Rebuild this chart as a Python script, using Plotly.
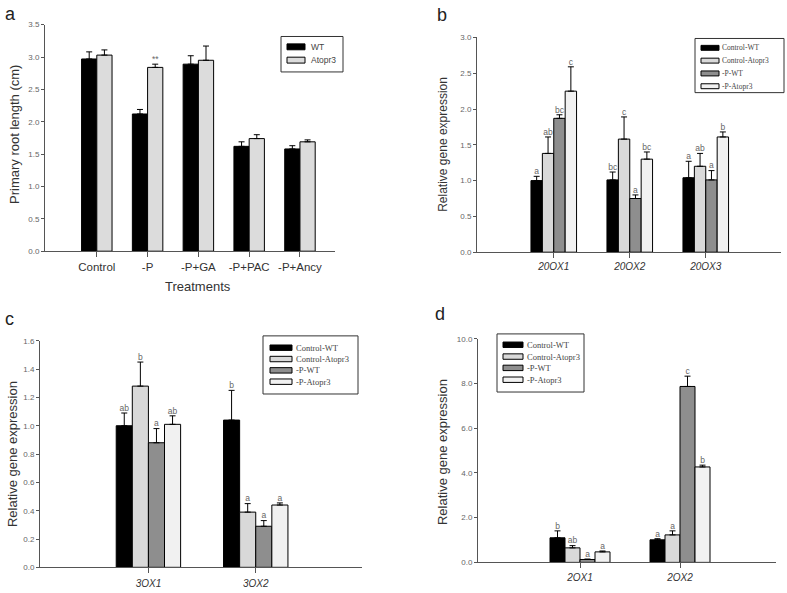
import plotly.graph_objects as go

# ---------------- data ----------------
# Panel a
a_categories = ["Control", "-P", "-P+GA", "-P+PAC", "-P+Ancy"]
a_series = ["WT", "Atopr3"]
a_wt = [2.97, 2.12, 2.89, 1.62, 1.58]
a_wt_err = [0.11, 0.07, 0.13, 0.07, 0.05]
a_atopr3 = [3.03, 2.84, 2.95, 1.74, 1.69]
a_atopr3_err = [0.08, 0.05, 0.22, 0.06, 0.03]
a_atopr3_marks = ["", "**", "", "", ""]

series_names = ["Control-WT", "Control-Atopr3", "-P-WT", "-P-Atopr3"]

# Panel b
b_genes = ["20OX1", "20OX2", "20OX3"]
b_vals = [
    [1.00, 1.01, 1.04],
    [1.38, 1.58, 1.20],
    [1.87, 0.75, 1.01],
    [2.25, 1.30, 1.61],
]
b_errs = [
    [0.06, 0.11, 0.23],
    [0.23, 0.31, 0.18],
    [0.05, 0.05, 0.13],
    [0.34, 0.10, 0.07],
]
b_letters = [
    ["a", "bc", "a"],
    ["ab", "c", "ab"],
    ["bc", "a", "a"],
    ["c", "bc", "b"],
]

# Panel c
c_genes = ["3OX1", "3OX2"]
c_vals = [
    [1.00, 1.04],
    [1.28, 0.39],
    [0.88, 0.29],
    [1.01, 0.44],
]
c_errs = [
    [0.09, 0.21],
    [0.17, 0.06],
    [0.10, 0.04],
    [0.06, 0.015],
]
c_letters = [
    ["ab", "b"],
    ["b", "a"],
    ["a", "a"],
    ["ab", "a"],
]

# Panel d
d_genes = ["2OX1", "2OX2"]
d_vals = [
    [1.10, 1.01],
    [0.65, 1.23],
    [0.13, 7.87],
    [0.47, 4.27],
]
d_errs = [
    [0.31, 0.05],
    [0.10, 0.18],
    [0.02, 0.46],
    [0.04, 0.08],
]
d_letters = [
    ["b", "a"],
    ["ab", "a"],
    ["a", "c"],
    ["a", "b"],
]

# ---------------- style ----------------
W, H = 787, 593
SANS = "Liberation Sans, Arial, sans-serif"
SERIF = "Liberation Serif, Times New Roman, serif"
series_colors = ["#000000", "#d9d9d9", "#8e8e8e", "#f1f1f1"]
a_colors = ["#000000", "#dcdcdc"]
AXIS_COL = "#555555"
TICK_COL = "#666666"
LETTER_COL = "#666666"
GROUP_W = 0.6


def px_x(p):
    return p / W


def px_y(p):
    return 1 - p / H


fig = go.Figure()


def add_panel(idx, cats, vals, errs, names, colors, letters):
    xa = "x" if idx == 1 else f"x{idx}"
    ya = "y" if idx == 1 else f"y{idx}"
    n = len(vals)
    slot = GROUP_W / n
    xs = list(range(len(cats)))
    for k in range(n):
        fig.add_trace(go.Bar(
            x=xs, y=vals[k], name=names[k],
            marker=dict(color=colors[k], line=dict(color="#000000", width=1)),
            error_y=dict(type="data", symmetric=False, array=errs[k],
                         arrayminus=[0] * len(cats), color="#000000",
                         thickness=1, width=3),
            xaxis=xa, yaxis=ya, offsetgroup=str(k), showlegend=False,
            hoverinfo="skip",
        ))
    for k in range(n):
        if letters is None or letters[k] is None:
            continue
        off = (k - (n - 1) / 2) * slot
        fig.add_trace(go.Scatter(
            x=[i + off for i in xs],
            y=[v + e for v, e in zip(vals[k], errs[k])],
            text=letters[k], mode="text", textposition="top center",
            textfont=dict(size=8.5, color=LETTER_COL, family=SANS),
            xaxis=xa, yaxis=ya, showlegend=False, hoverinfo="skip",
            cliponaxis=False,
        ))


add_panel(1, a_categories, [a_wt, a_atopr3], [a_wt_err, a_atopr3_err],
          a_series, a_colors, [None, a_atopr3_marks])
add_panel(2, b_genes, b_vals, b_errs, series_names, series_colors, b_letters)
add_panel(3, c_genes, c_vals, c_errs, series_names, series_colors, c_letters)
add_panel(4, d_genes, d_vals, d_errs, series_names, series_colors, d_letters)


def xaxis(domain_px, cats, rng, italic, fsize, anchor, ticklen=5, standoff=0):
    labels = [f"<i>{c}</i>" for c in cats] if italic else cats
    return dict(
        domain=[px_x(domain_px[0]), px_x(domain_px[1])],
        range=rng, showline=True, linecolor=AXIS_COL, linewidth=1,
        ticks="outside", ticklen=ticklen, tickcolor=AXIS_COL, tickwidth=1,
        tickvals=list(range(len(cats))), ticktext=labels,
        ticklabelstandoff=standoff,
        tickfont=dict(size=fsize, color="#333333", family=SANS),
        showgrid=False, zeroline=False, fixedrange=True, anchor=anchor,
    )


def yaxis(domain_px, rng, dtick, anchor):
    return dict(
        domain=[px_y(domain_px[1]), px_y(domain_px[0])],
        range=rng, dtick=dtick, tick0=0, tickformat=".1f",
        showline=True, linecolor=AXIS_COL, linewidth=1,
        ticks="outside", ticklen=3, tickcolor=AXIS_COL,
        tickfont=dict(size=8, color=TICK_COL, family=SANS),
        showgrid=False, zeroline=False, anchor=anchor, fixedrange=True,
    )


fig.update_layout(
    width=W, height=H,
    margin=dict(l=0, r=0, t=0, b=0),
    paper_bgcolor="white", plot_bgcolor="white",
    barmode="group", bargap=0.4, bargroupgap=0,
    showlegend=False,
    xaxis=xaxis((45, 335), a_categories, [-1.02, 4.69], False, 11.5, "y"),
    yaxis=yaxis((21, 251), [0, 3.5], 0.5, "x"),
    xaxis2=xaxis((477, 781), b_genes, [-1.01, 2.99], True, 10, "y2"),
    yaxis2=yaxis((34, 252), [0, 3.0], 0.5, "x2"),
    xaxis3=xaxis((40, 362), c_genes, [-1.01, 1.99], True, 10, "y3", standoff=2),
    yaxis3=yaxis((342, 572), [0, 1.6], 0.2, "x3"),
    xaxis4=xaxis((478, 776), d_genes, [-1.02, 1.96], True, 10, "y4", standoff=1),
    yaxis4=yaxis((340, 567), [0, 10.0], 2.0, "x4"),
)

ann = []
shapes = []


def text(x, y, s, size, angle=0, color="#222222", family=SANS, xanchor="center"):
    ann.append(dict(
        x=px_x(x), y=px_y(y), xref="paper", yref="paper",
        text=s, showarrow=False,
        textangle=angle, xanchor=xanchor, yanchor="middle",
        font=dict(size=size, family=family, color=color),
    ))


def rect(x0, y0, x1, y1, fill, line="#000000", width=1):
    shapes.append(dict(
        type="rect", xref="paper", yref="paper",
        x0=px_x(x0), x1=px_x(x1), y0=px_y(y1), y1=px_y(y0),
        fillcolor=fill, line=dict(color=line, width=width),
    ))


def draw_legend(box, sw_x, sw_h, item_y, text_x, names, colors, family, fsize):
    rect(box[0], box[1], box[2], box[3], "white", "#333333", 1)
    for yy, nm, col in zip(item_y, names, colors):
        rect(sw_x[0], yy - sw_h / 2, sw_x[1], yy + sw_h / 2, col, "#000000", 1)
        text(text_x, yy, nm, fsize, color="#444444", family=family, xanchor="left")


draw_legend((281, 33, 343, 69), (287, 305), 6, [43.5, 57], 309,
            a_series, a_colors, SANS, 8.5)
draw_legend((695, 35, 784, 90), (701, 719), 5, [44.5, 57.5, 70.5, 83.5], 720,
            series_names, series_colors, SERIF, 7.5)
draw_legend((263, 337, 358, 396), (270, 292), 5.5, [349, 360.5, 372, 383.5], 294,
            series_names, series_colors, SERIF, 8.5)
draw_legend((497, 335, 584, 394), (503, 523), 5.5, [346, 358, 369.5, 381.5], 525,
            series_names, series_colors, SERIF, 8.5)

text(10, 10, "a", 18)
text(442, 11, "b", 18)
text(9, 320, "c", 18)
text(440, 315, "d", 18)
text(15, 133, "Primary root length (cm)", 13, angle=-90, color="#333333")
text(198, 287, "Treatments", 13, color="#333333")
text(443, 143, "Relative gene expression", 12, angle=-90, color="#333333")
text(12, 457, "Relative gene expression", 13, angle=-90, color="#333333")
text(442, 455, "Relative gene expression", 13, angle=-90, color="#333333")
fig.update_layout(annotations=ann, shapes=shapes)

fig.write_html(
    "out.html",
    config={"displayModeBar": False, "staticPlot": True},
    post_script="document.body.style.margin='0';document.body.style.overflow='hidden';",
)
